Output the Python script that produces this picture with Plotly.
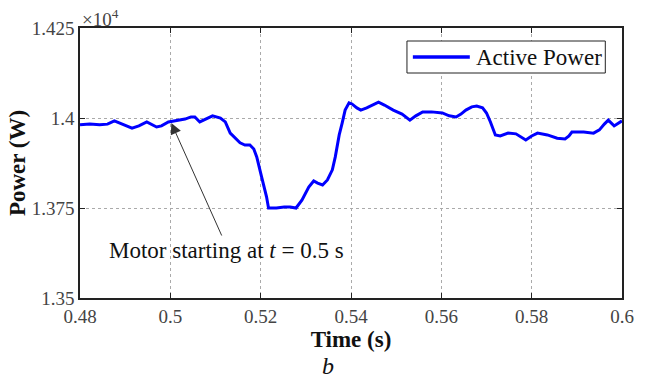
import plotly.graph_objects as go

# Active power measured around motor start-up
time_s = [0.4800, 0.48217, 0.48435, 0.48609, 0.48761, 0.48978, 0.49152, 0.49304,
          0.49478, 0.49696, 0.49804, 0.49957, 0.50174, 0.50326, 0.50457, 0.50543,
          0.50652, 0.50783, 0.50935, 0.51109, 0.51217, 0.51326, 0.51435, 0.51543,
          0.51652, 0.51761, 0.51848, 0.51913, 0.52022, 0.52087, 0.52130, 0.52174,
          0.52261, 0.52348, 0.52522, 0.52652, 0.52783, 0.52913, 0.53065, 0.53174,
          0.53261, 0.53370, 0.53478, 0.53587, 0.53652, 0.53739, 0.53804, 0.53870,
          0.53957, 0.54022, 0.54130, 0.54217, 0.54348, 0.54478, 0.54609, 0.54739,
          0.54935, 0.55130, 0.55304, 0.55435, 0.55587, 0.55783, 0.56022, 0.56174,
          0.56326, 0.56435, 0.56543, 0.56674, 0.56783, 0.56913, 0.57000, 0.57087,
          0.57196, 0.57304, 0.57478, 0.57652, 0.57761, 0.57870, 0.58000, 0.58130,
          0.58348, 0.58565, 0.58739, 0.58826, 0.58891, 0.59022, 0.59152, 0.59370,
          0.59500, 0.59609, 0.59696, 0.59826, 0.60000]
power_w = [13981, 13983, 13981, 13983, 13992, 13981, 13972, 13978,
           13989, 13975, 13978, 13989, 13994, 13997, 14003, 14003,
           13989, 13997, 14006, 14000, 13989, 13958, 13944, 13931,
           13925, 13925, 13914, 13892, 13836, 13806, 13781, 13750,
           13750, 13750, 13753, 13753, 13750, 13772, 13808, 13825,
           13819, 13814, 13828, 13856, 13892, 13953, 13986, 14022,
           14042, 14039, 14028, 14022, 14028, 14036, 14044, 14036,
           14022, 14011, 13994, 14006, 14017, 14017, 14014, 14006,
           14003, 14011, 14022, 14031, 14033, 14028, 14014, 13989,
           13953, 13950, 13958, 13956, 13947, 13939, 13950, 13958,
           13953, 13944, 13942, 13950, 13961, 13961, 13961, 13958,
           13967, 13983, 13994, 13978, 13992]

x_ticks = [0.48, 0.50, 0.52, 0.54, 0.56, 0.58, 0.60]
x_tick_text = ["0.48", "0.5", "0.52", "0.54", "0.56", "0.58", "0.6"]
y_ticks = [1.35, 1.375, 1.4, 1.425]
y_tick_text = ["1.35", "1.375", "1.4", "1.425"]

SCALE = 1e4
power_scaled = [p / SCALE for p in power_w]

serif = "Liberation Serif"
blue = "#0000ff"

fig = go.Figure()
fig.add_trace(go.Scatter(
    x=time_s, y=power_scaled, mode="lines",
    line=dict(color=blue, width=3), name="Active Power", showlegend=False,
))

axis_common = dict(
    showline=True, linecolor="#222", linewidth=1.5, mirror="ticks",
    ticks="inside", ticklen=5, tickcolor="#222",
    showgrid=True, gridcolor="#aaa", griddash="dot", gridwidth=1,
    zeroline=False,
    tickfont=dict(family=serif, size=19, color="#444"),
)

fig.update_xaxes(range=[0.48, 0.60], tickvals=x_ticks, ticktext=x_tick_text,
                 title=dict(text="<b>Time (s)</b>", font=dict(family=serif, size=23, color="#111"),
                            standoff=0),
                 **axis_common)
fig.update_yaxes(range=[1.35, 1.425], tickvals=y_ticks, ticktext=y_tick_text,
                 title=dict(text="<b>Power (W)</b>", font=dict(family=serif, size=23, color="#111"),
                            standoff=0),
                 **axis_common)

# Exponent label above the y axis
fig.add_annotation(xref="paper", yref="paper", x=0.0, y=1.0, xanchor="left", yanchor="bottom",
                   text="×10<sup>4</sup>", showarrow=False,
                   font=dict(family=serif, size=19, color="#444"), yshift=-4)

# Arrow pointing at the motor start instant
fig.add_annotation(x=0.50022, y=1.39861, ax=0.51152, ay=1.36694, axref="x", ayref="y",
                   xref="x", yref="y", text="", showarrow=True,
                   arrowhead=2, arrowsize=2.2, arrowwidth=1, arrowcolor="#333")
fig.add_annotation(x=0.51239, y=1.36333, xref="x", yref="y",
                   text="Motor starting at <i>t</i> = 0.5 s", showarrow=False,
                   font=dict(family=serif, size=23, color="#111"))

# Legend box
fig.add_shape(type="rect", xref="paper", yref="paper",
              x0=(413 - 80) / 552, x1=(615 - 80) / 552,
              y0=1 - (73 - 28) / 270, y1=1 - (41 - 28) / 270,
              line=dict(color="#222", width=1), fillcolor="white")
fig.add_shape(type="line", xref="paper", yref="paper",
              x0=(419 - 80) / 552, x1=(477 - 80) / 552,
              y0=1 - (57 - 28) / 270, y1=1 - (57 - 28) / 270,
              line=dict(color=blue, width=3.5))
fig.add_annotation(xref="paper", yref="paper", x=(481 - 80) / 552, y=1 - (57 - 28) / 270,
                   xanchor="left", yanchor="middle", text="Active Power", showarrow=False,
                   font=dict(family=serif, size=23, color="#111"))

# Panel label
fig.add_annotation(xref="paper", yref="paper", x=(333 - 80) / 552, y=-(366 - 298) / 270,
                   xanchor="center", yanchor="middle", text="<i>b</i>", showarrow=False,
                   font=dict(family=serif, size=24, color="#111"))

fig.update_layout(
    width=646, height=383,
    margin=dict(l=80, r=14, t=28, b=85),
    paper_bgcolor="white", plot_bgcolor="white",
    showlegend=False,
)

fig.write_html("out.html")
